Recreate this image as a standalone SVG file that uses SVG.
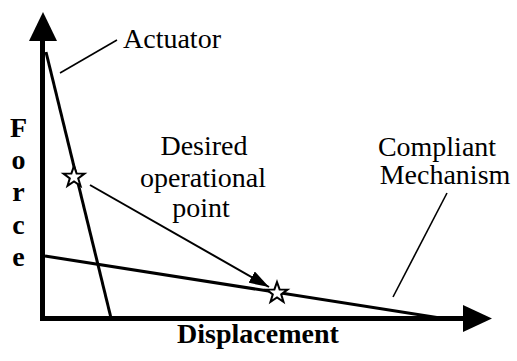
<svg xmlns="http://www.w3.org/2000/svg" width="517" height="361" viewBox="0 0 517 361">
  <defs>
    <style>
      .axis { stroke: #000; stroke-width: 5; fill: none; }
      .curve { stroke: #000; stroke-width: 3; fill: none; }
      .leader { stroke: #000; stroke-width: 1.6; fill: none; }
      .star { fill: #fff; stroke: #000; stroke-width: 2; stroke-linejoin: miter; }
    </style>
    <marker id="head" viewBox="0 0 20 13" refX="20" refY="6.5" markerWidth="20" markerHeight="13" markerUnits="userSpaceOnUse" orient="auto">
      <path d="M0,0 L20,6.5 L0,13 z" fill="#000"/>
    </marker>
    <path id="starShape" d="M0,-11 L2.6,-3.6 L10.5,-3.4 L4.2,1.4 L6.5,8.9 L0,4.5 L-6.5,8.9 L-4.2,1.4 L-10.5,-3.4 L-2.6,-3.6 Z"/>
  </defs>

  <!-- axes -->
  <g id="axes">
    <line class="axis" x1="42.5" y1="320.5" x2="42.5" y2="38"/>
    <polygon points="43,12 29,41 57,41" fill="#000"/>
    <line class="axis" x1="40" y1="318.5" x2="465" y2="318.5"/>
    <polygon points="492,318.5 463,305 463,332" fill="#000"/>
    <g font-family="Liberation Serif, DejaVu Serif, serif" font-size="28" font-weight="bold" fill="#000" text-anchor="middle">
      <text x="18.5" y="137">F</text>
      <text x="18.5" y="169">o</text>
      <text x="18.5" y="201">r</text>
      <text x="18.5" y="234">c</text>
      <text x="18.5" y="266">e</text>
      <text x="258" y="343">Displacement</text>
    </g>
  </g>

  <!-- characteristic lines, leaders and the move between operating points -->
  <g id="connectors">
    <line class="curve" x1="46" y1="52" x2="111" y2="318"/>
    <line class="curve" x1="45" y1="256" x2="440" y2="318"/>
    <line class="leader" x1="60" y1="73" x2="117" y2="40"/>
    <line class="leader" x1="447" y1="193" x2="393" y2="297"/>
    <line stroke="#000" stroke-width="2" x1="90" y1="185" x2="269" y2="287" marker-end="url(#head)"/>
  </g>

  <g font-family="Liberation Serif, DejaVu Serif, serif" font-size="28" fill="#000">
    <g id="actuator">
      <text x="123" y="48">Actuator</text>
    </g>

    <g id="compliant-mechanism" text-anchor="middle">
      <text x="437" y="156">Compliant</text>
      <text x="445" y="184">Mechanism</text>
    </g>

    <g id="desired-point" text-anchor="middle">
      <text x="204" y="155">Desired</text>
      <text x="203" y="187">operational</text>
      <text x="201" y="217">point</text>
    </g>
  </g>

  <g id="start-point">
    <use href="#starShape" class="star" x="74" y="177"/>
  </g>
  <g id="operating-point">
    <use href="#starShape" class="star" x="277" y="293"/>
  </g>
</svg>
